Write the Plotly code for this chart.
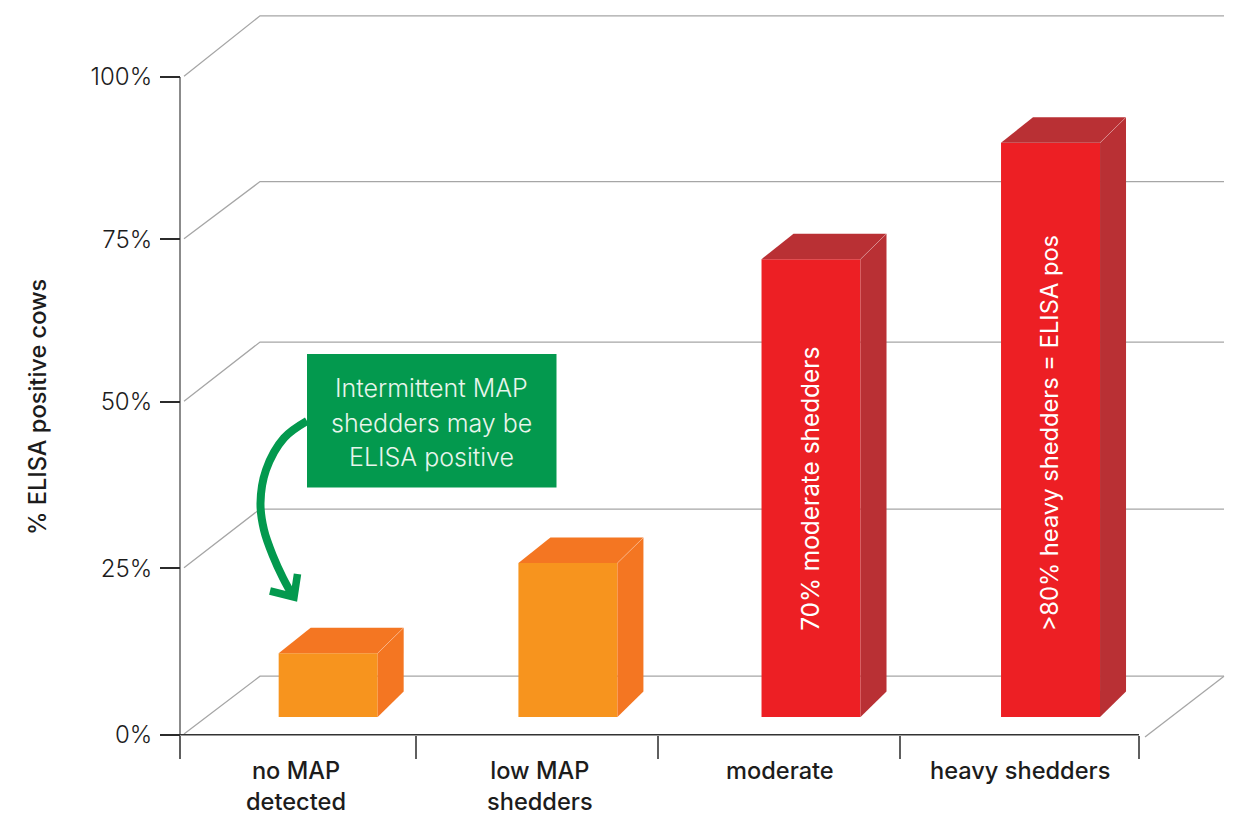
import plotly.graph_objects as go

# ---- data ----
categories = ["no MAP<br>detected", "low MAP<br>shedders", "moderate", "heavy shedders"]
bar_values = [12.4, 26.1, 72.3, 90.0]
y_tick_labels = ["0%", "25%", "50%", "75%", "100%"]
y_tick_positions = [0, 25.3, 50.6, 75.3, 100]
back_wall_levels = [8.9, 34.3, 59.7, 84.1, 109.3]
category_edges = [0, 0.985, 1.995, 3.005, 4]
bar_centers = [0.618, 1.618, 2.632, 3.631]
label_centers = [0.482, 1.502, 2.503, 3.504]
bar_inner_labels = {2: "70% moderate shedders", 3: ">80% heavy shedders = ELISA pos"}

# ---- geometry / style ----
W, H = 1236, 816
X0, X1 = 180, 1139
Y0, Y100 = 734.7, 77
XU = (X1 - X0) / 4
YU = (Y0 - Y100) / 100


def vx(px):
    return (px - X0) / XU


def vy(py):
    return (Y0 - py) / YU


FONT = "Inter"
TXT = "#1c1c1c"
BASE = vy(717)
BAR_W = 99 / XU
DX_R = 26 / XU
DX_L = 32 / XU
DY = 25.5 / YU
WALL_DX = 80 / XU
GRID = "#a6a6a6"
front_colors = ["#f7941e", "#f7941e", "#ed1f24", "#ed1f24"]
shade_colors = ["#f47622", "#f47622", "#b93034", "#b93034"]
inner_label_sizes = {2: 24.4, 3: 23.7}
GREEN = "#03994e"
XR = [vx(0), vx(W)]
YR = [vy(H), vy(0)]

fig = go.Figure()

# back wall and floor, on the base axes so they stay behind the bars
for front, back in zip(y_tick_positions, back_wall_levels):
    fig.add_trace(go.Scatter(
        x=[vx(184), WALL_DX, vx(1224)], y=[front + 0.1, back, back],
        mode="lines", line=dict(color=GRID, width=1.3),
        showlegend=False, hoverinfo="skip"))
fig.add_trace(go.Scatter(
    x=[vx(1224), vx(1145)], y=[back_wall_levels[0], vy(737)],
    mode="lines", line=dict(color=GRID, width=1.3),
    showlegend=False, hoverinfo="skip"))

# axis spines
fig.add_trace(go.Scatter(
    x=[0, 0], y=[y_tick_positions[0], y_tick_positions[-1]],
    mode="lines", line=dict(color="#6e6e6e", width=1.6),
    showlegend=False, hoverinfo="skip"))
fig.add_trace(go.Scatter(
    x=[category_edges[0], category_edges[-1]], y=[0, 0],
    mode="lines", line=dict(color="#333333", width=1.6),
    showlegend=False, hoverinfo="skip"))

# front faces
fig.add_trace(go.Bar(
    x=bar_centers, y=[v - BASE for v in bar_values], base=BASE, width=BAR_W,
    marker=dict(color=front_colors, line=dict(width=0)),
    xaxis="x2", yaxis="y2", showlegend=False, hoverinfo="skip"))

# side and top faces
for c, v, shade in zip(bar_centers, bar_values, shade_colors):
    xl, xr = c - BAR_W / 2, c + BAR_W / 2
    fig.add_trace(go.Scatter(
        x=[xr, xr + DX_R, xr + DX_R, xr, xr], y=[BASE, BASE + DY, v + DY, v, BASE],
        mode="lines", fill="toself", fillcolor=shade, line=dict(width=0),
        xaxis="x2", yaxis="y2", showlegend=False, hoverinfo="skip"))
    fig.add_trace(go.Scatter(
        x=[xl, xl + DX_L, xr + DX_R, xr, xl], y=[v, v + DY, v + DY, v, v],
        mode="lines", fill="toself", fillcolor=shade, line=dict(width=0),
        xaxis="x2", yaxis="y2", showlegend=False, hoverinfo="skip"))
    fig.add_trace(go.Scatter(
        x=[xr, xr + DX_R], y=[v, v + DY],
        mode="lines", line=dict(color="rgba(255,255,255,0.35)", width=0.8),
        xaxis="x2", yaxis="y2", showlegend=False, hoverinfo="skip"))

# curved callout arrow
fig.add_trace(go.Scatter(
    x=[vx(p) for p in (307, 284, 266, 260.5, 264, 273, 283, 294)],
    y=[vy(p) for p in (421, 438, 470, 503, 530, 556, 578, 598)],
    mode="lines", line=dict(color=GREEN, width=8, shape="spline"),
    xaxis="x2", yaxis="y2", showlegend=False, hoverinfo="skip"))
fig.add_trace(go.Scatter(
    x=[vx(p) for p in (270, 294, 297.5)], y=[vy(p) for p in (591, 597, 574)],
    mode="lines", line=dict(color=GREEN, width=7.5),
    xaxis="x2", yaxis="y2", showlegend=False, hoverinfo="skip"))

annotations = []
# category labels under the axis
for c, lab in zip(label_centers, categories):
    annotations.append(dict(
        x=c, xref="x", y=vy(754), yref="y",
        text=lab, showarrow=False, xanchor="center", yanchor="top",
        font=dict(family=FONT, size=23.6, color=TXT, weight=500)))
# labels inside the bars
for i, txt in bar_inner_labels.items():
    annotations.append(dict(
        x=bar_centers[i] - 0.005, xref="x", y=vy(633), yref="y",
        text=txt, textangle=-90, showarrow=False, xanchor="center", yanchor="bottom",
        font=dict(family=FONT, size=inner_label_sizes[i], color="white")))
# callout text
for line, py in zip(["Intermittent MAP", "shedders may be", "ELISA positive"], (388, 423, 457)):
    annotations.append(dict(
        x=vx(431), xref="x", y=vy(py), yref="y", text=line, showarrow=False,
        xanchor="center", yanchor="middle",
        font=dict(family=FONT, size=25, color="#e8f5ec", weight=300)))
# value axis title
annotations.append(dict(
    x=vx(37), xref="x", y=vy(407), yref="y", text="% ELISA positive cows",
    textangle=-90, showarrow=False, xanchor="center", yanchor="middle",
    font=dict(family=FONT, size=23.6, color=TXT, weight=500)))

fig.update_layout(
    template="none",
    width=W, height=H, margin=dict(l=0, r=0, t=0, b=0, pad=0),
    paper_bgcolor="white", plot_bgcolor="rgba(0,0,0,0)", showlegend=False,
    xaxis=dict(
        domain=[0, 1], range=XR, tickmode="array", tickvals=category_edges,
        anchor="free", position=(H - Y0) / H,
        showticklabels=False, ticks="outside", ticklen=23, tickwidth=1.6, tickcolor="#5f5f5f",
        showline=False, showgrid=False, zeroline=False, automargin=False, fixedrange=True),
    yaxis=dict(
        domain=[0, 1], range=YR, tickmode="array",
        anchor="free", position=X0 / W,
        tickvals=y_tick_positions, ticktext=y_tick_labels, ticks="outside", ticklen=20,
        tickwidth=1.6, tickcolor="#2b2b2b", ticklabelstandoff=3,
        tickfont=dict(family=FONT, size=24, color=TXT, weight=300),
        showline=False, showgrid=False, zeroline=False, automargin=False, fixedrange=True),
    xaxis2=dict(domain=[0, 1], range=XR, overlaying="x", anchor="y2",
                visible=False, automargin=False, fixedrange=True),
    yaxis2=dict(domain=[0, 1], range=YR, overlaying="y",
                anchor="x2", visible=False, automargin=False, fixedrange=True),
    shapes=[dict(type="rect", xref="x", yref="y", layer="above",
                 x0=vx(307), x1=vx(556.5), y0=vy(354), y1=vy(487.5),
                 fillcolor=GREEN, line=dict(width=0))],
    annotations=annotations,
)

fig.write_html("out.html", config=dict(displayModeBar=False),
               post_script="document.body.style.margin='0';")
